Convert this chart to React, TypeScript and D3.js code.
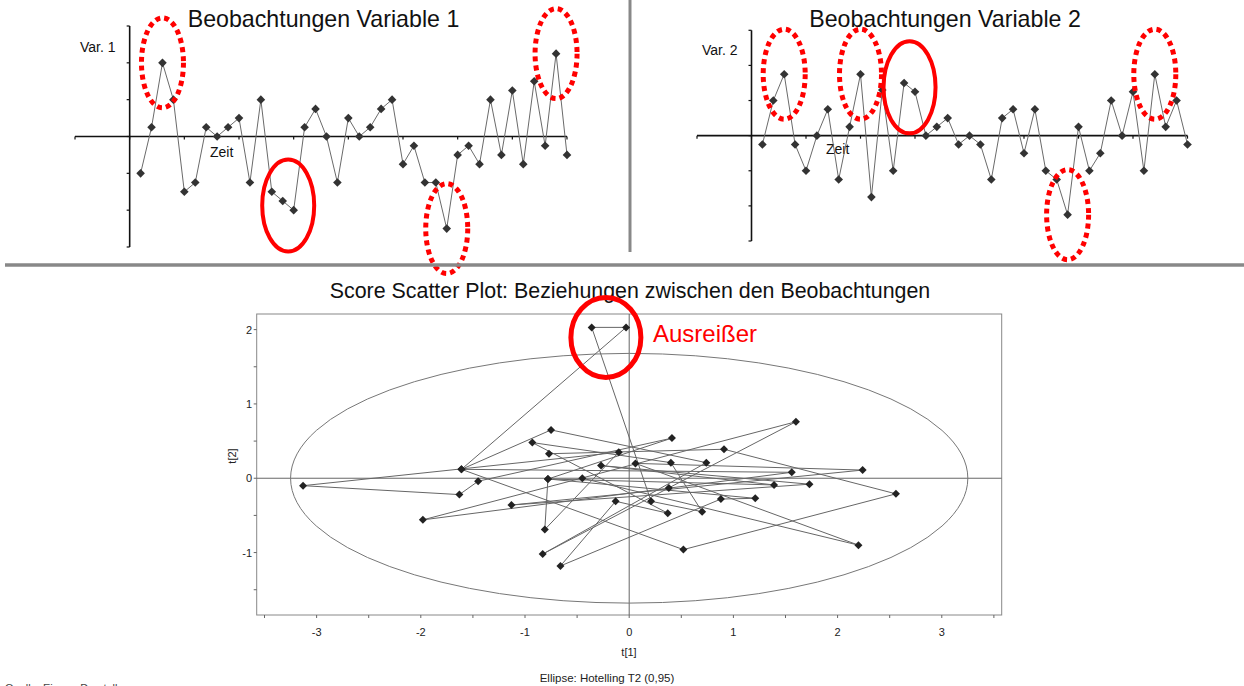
import React from 'react';
import * as d3 from 'd3';

// ---------- data ----------
const timeIndex: number[] = d3.range(1, 41);
const var1: number[] = [
  -1, 0.25, 2, 1, -1.5, -1.25, 0.25, 0, 0.25, 0.5,
  -1.25, 1, -1.5, -1.75, -2, 0.25, 0.75, 0, -1.25, 0.5,
  0, 0.25, 0.75, 1, -0.75, -0.25, -1.25, -1.25, -2.5, -0.5,
  -0.25, -0.75, 1, -0.5, 1.25, -0.75, 1.5, -0.25, 2.25, -0.5,
];
const var2: number[] = [
  -0.25, 1, 1.75, -0.25, -1, 0, 0.75, -1.25, 0.25, 1.75,
  -1.75, 1.3, -1, 1.5, 1.25, 0, 0.25, 0.5, -0.25, 0,
  -0.25, -1.25, 0.5, 0.75, -0.5, 0.75, -1, -1.25, -2.25, 0.25,
  -1, -0.5, 1, 0, 1.25, -1, 1.75, 0.25, 1, -0.25,
];
const scoreT1: number[] = [
  -0.77, 0.91, 2.56, 0.52, -1.61, -0.75, 0.74, -0.83, 0.38, 1.6,
  -1.98, 1.56, -1.61, -0.03, -0.36, 0.21, 0.7, 0.4, -0.93, 0.37,
  -0.13, -0.66, 0.88, 1.21, -0.78, 0.41, -1.45, -1.63, -3.13, -0.1,
  -0.81, -0.78, 1.39, -0.27, 1.73, -1.13, 2.24, 0.06, 2.2, -0.45,
];
const scoreT2: number[] = [
  0.33, 0.39, -0.21, -0.96, 0.12, 0.65, 0.21, -1.02, -0.13, 0.76,
  -0.56, 0.08, 0.12, 2.03, 2.03, -0.31, -0.45, 0.21, 0.48, -0.47,
  -0.31, -1.18, -0.28, -0.27, -0.01, 0.54, -0.04, -0.22, -0.1, 0.35,
  -0.69, -0.01, -0.09, 0.17, -0.08, -0.36, 0.11, 0.2, -0.9, 0.0,
];
const topYTicks: number[] = [-3, -2, -1, 0, 1, 2, 3];
const topXTicks: number[] = [-5, 0, 5, 10, 15, 20, 25, 30, 35, 40];
const scatterXLabels: number[] = [-3, -2, -1, 0, 1, 2, 3];
const scatterYLabels: number[] = [-1, 0, 1, 2];
const scatterXMinor: number[] = [-3.5, -3, -2.5, -2, -1.5, -1, -0.5, 0, 0.5, 1, 1.5, 2, 2.5, 3, 3.5];
const scatterYMinor: number[] = [-1.5, -1, -0.5, 0, 0.5, 1, 1.5, 2];
const hotellingAxes: number[] = [3.25, 1.68];
const dashedMarks1: number[] = [3, 29, 39];
const dashedMarks2: number[] = [3, 10, 29, 37];
const solidGroup: number[] = [14, 15];
const outlierGroup: number[] = [14, 15];

const FONT = 'Liberation Sans, Arial, Helvetica, sans-serif';
const RED = '#ff0000';

const diamond = (x: number, y: number, r: number) =>
  `M${x},${y - r}L${x + r},${y}L${x},${y + r}L${x - r},${y}Z`;

type TopProps = {
  values: number[];
  xr: [number, number];
  yr: [number, number];
  title: string;
  titleX: number;
  varLabel: string;
  varPos: [number, number];
  zeitPos: [number, number];
  dashed: number[];
};

function TopChart(p: TopProps) {
  const x = d3.scaleLinear().domain([-5, 40]).range(p.xr);
  const y = d3.scaleLinear().domain([-3, 3]).range(p.yr);
  const line = d3
    .line<number>()
    .x((_, i) => x(timeIndex[i]))
    .y((d) => y(d));
  const x0 = x(0);
  const y0 = y(0);
  const sx = (x(solidGroup[0]) + x(solidGroup[1])) / 2;
  const sy = (y(p.values[solidGroup[0] - 1]) + y(p.values[solidGroup[1] - 1])) / 2;
  return (
    <g>
      <text x={p.titleX} y={27} textAnchor="middle" fontSize={23.2} fontFamily={FONT} fill="#111">
        {p.title}
      </text>
      <line x1={x0} x2={x0} y1={y(-3)} y2={y(3)} stroke="#111" strokeWidth={1.6} />
      {topYTicks.map((t) => (
        <line key={'yt' + t} x1={x0 - 3} x2={x0} y1={y(t)} y2={y(t)} stroke="#111" strokeWidth={1.2} />
      ))}
      <line x1={x(-5)} x2={x(40)} y1={y0} y2={y0} stroke="#111" strokeWidth={1.6} />
      {topXTicks.map((t) => (
        <line key={'xt' + t} x1={x(t)} x2={x(t)} y1={y0} y2={y0 + 3} stroke="#111" strokeWidth={1.2} />
      ))}
      <text x={p.varPos[0]} y={p.varPos[1]} fontSize={14} fontFamily={FONT} fill="#111">
        {p.varLabel}
      </text>
      <text x={p.zeitPos[0]} y={p.zeitPos[1]} fontSize={14} fontFamily={FONT} fill="#111">
        Zeit
      </text>
      <path d={line(p.values) || ''} fill="none" stroke="#6a6a6a" strokeWidth={1} />
      {p.values.map((v, i) => (
        <path key={'m' + i} d={diamond(x(timeIndex[i]), y(v), 4.3)} fill="#333" />
      ))}
      {p.dashed.map((k) => (
        <ellipse
          key={'de' + k}
          cx={x(k)}
          cy={y(p.values[k - 1])}
          rx={21}
          ry={45}
          fill="none"
          stroke={RED}
          strokeWidth={5}
          strokeDasharray="5,4"
        />
      ))}
      <ellipse cx={sx} cy={sy} rx={26} ry={46} fill="none" stroke={RED} strokeWidth={4} />
    </g>
  );
}

function Scatter() {
  const x = d3.scaleLinear().domain([-3.575, 3.575]).range([256.7, 1001.7]);
  const y = d3.scaleLinear().domain([-1.84, 2.21]).range([615, 314]);
  const pts = scoreT1.map((t, i) => [x(t), y(scoreT2[i])] as [number, number]);
  const line = d3.line<[number, number]>();
  const ox = (x(scoreT1[outlierGroup[0] - 1]) + x(scoreT1[outlierGroup[1] - 1])) / 2;
  const oy = y(scoreT2[outlierGroup[0] - 1]);
  return (
    <g>
      <text x={630} y={298} textAnchor="middle" fontSize={21.4} fontFamily={FONT} fill="#111">
        Score Scatter Plot: Beziehungen zwischen den Beobachtungen
      </text>
      <rect x={x(-3.575)} y={y(2.21)} width={x(3.575) - x(-3.575)} height={y(-1.84) - y(2.21)} fill="none" stroke="#888" strokeWidth={1} />
      <line x1={x(-3.575)} x2={x(3.575)} y1={y(0)} y2={y(0)} stroke="#666" strokeWidth={1} />
      <line x1={x(0)} x2={x(0)} y1={y(2.21)} y2={y(-1.84)} stroke="#666" strokeWidth={1} />
      {scatterXMinor.map((t) => (
        <line key={'sxm' + t} x1={x(t)} x2={x(t)} y1={615} y2={618} stroke="#666" />
      ))}
      {scatterYMinor.map((t) => (
        <line key={'sym' + t} x1={253.7} x2={256.7} y1={y(t)} y2={y(t)} stroke="#666" />
      ))}
      {scatterXLabels.map((t) => (
        <text key={'sxl' + t} x={x(t)} y={636} textAnchor="middle" fontSize={11} fontFamily={FONT} fill="#222">
          {t}
        </text>
      ))}
      {scatterYLabels.map((t) => (
        <text key={'syl' + t} x={252} y={y(t) + 4} textAnchor="end" fontSize={11} fontFamily={FONT} fill="#222">
          {t}
        </text>
      ))}
      <text x={629} y={656} textAnchor="middle" fontSize={11} fontFamily={FONT} fill="#222">
        t[1]
      </text>
      <text transform="translate(236,456) rotate(-90)" textAnchor="middle" fontSize={11} fontFamily={FONT} fill="#222">
        t[2]
      </text>
      <ellipse
        cx={x(0)}
        cy={y(0)}
        rx={x(hotellingAxes[0]) - x(0)}
        ry={y(0) - y(hotellingAxes[1])}
        fill="none"
        stroke="#777"
        strokeWidth={1}
      />
      <path d={line(pts) || ''} fill="none" stroke="#666" strokeWidth={1} />
      {pts.map((p, i) => (
        <path key={'sp' + i} d={diamond(p[0], p[1], 4)} fill="#222" />
      ))}
      <ellipse cx={ox - 3} cy={oy + 10} rx={35} ry={40} fill="none" stroke={RED} strokeWidth={5} />
      <text x={653} y={342} fontSize={24} fontFamily={FONT} fill={RED}>
        Ausreißer
      </text>
      <text x={607} y={682} textAnchor="middle" fontSize={11.5} fontFamily={FONT} fill="#222">
        Ellipse: Hotelling T2 (0,95)
      </text>
    </g>
  );
}

export default function App() {
  return (
    <svg
      width={1244}
      height={686}
      style={{ position: 'absolute', left: 0, top: 0, background: '#fff' }}
    >
      <rect x={0} y={0} width={1244} height={686} fill="#fff" />
      <TopChart
        values={var1}
        xr={[75, 567]}
        yr={[247, 26]}
        title="Beobachtungen Variable 1"
        titleX={323.5}
        varLabel="Var. 1"
        varPos={[80, 52]}
        zeitPos={[210, 157]}
        dashed={dashedMarks1}
      />
      <TopChart
        values={var2}
        xr={[697, 1187.5]}
        yr={[241, 30.3]}
        title="Beobachtungen Variable 2"
        titleX={945}
        varLabel="Var. 2"
        varPos={[702, 55]}
        zeitPos={[826, 154]}
        dashed={dashedMarks2}
      />
      <line x1={630} x2={630} y1={0} y2={252} stroke="#888" strokeWidth={3} />
      <line x1={5} x2={1244} y1={265} y2={265} stroke="#888" strokeWidth={3.5} />
      <Scatter />
      <text x={5} y={692} fontSize={11} fontFamily={FONT} fill="#444">
        Quelle: Eigene Darstellung
      </text>
    </svg>
  );
}
